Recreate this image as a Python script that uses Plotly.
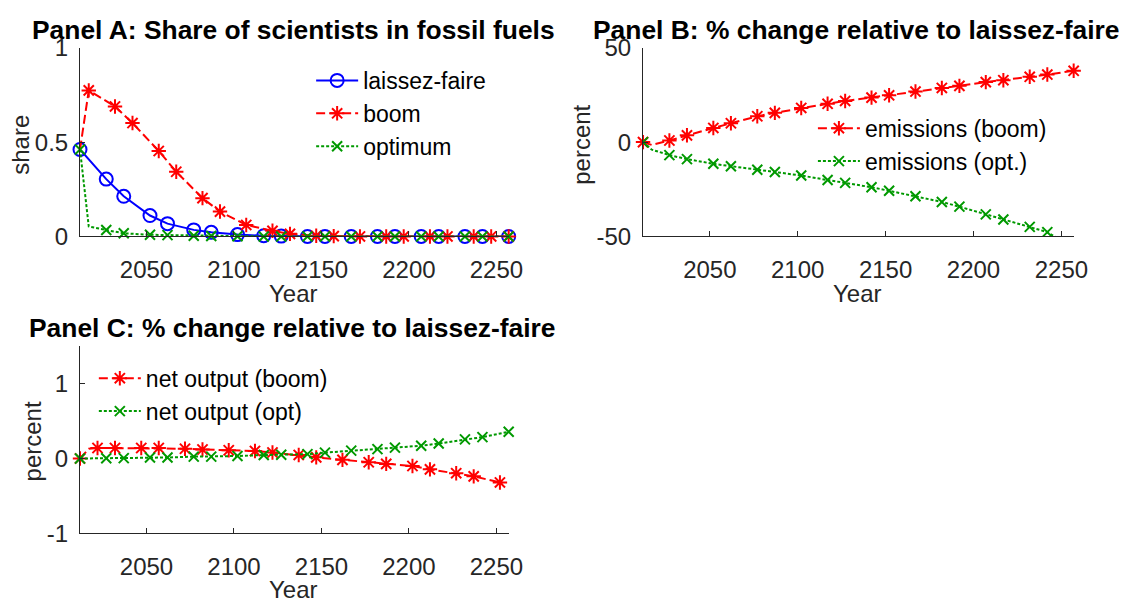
import plotly.graph_objects as go

# ---------------- data ----------------
# Panel A: share of scientists in fossil fuels
years_a_laissez = [2012, 2027, 2037, 2052, 2062, 2077, 2087, 2102, 2117, 2127,
                   2142, 2152, 2167, 2182, 2192, 2207, 2217, 2232, 2242, 2257]
share_laissez = [0.461, 0.304, 0.213, 0.111, 0.068, 0.035, 0.022, 0.010, 0.004, 0.002,
                 0, 0, 0, 0, 0, 0, 0, 0, 0, 0]
marked_a_laissez = [1] * 20

years_a_boom = [2012, 2017, 2032, 2042, 2057, 2067, 2082, 2092, 2107, 2122, 2132,
                2147, 2157, 2172, 2187, 2197, 2212, 2222, 2237, 2247, 2257]
share_boom = [0.461, 0.774, 0.689, 0.601, 0.453, 0.343, 0.203, 0.132, 0.061, 0.030, 0.014,
              0.004, 0.002, 0, 0, 0, 0, 0, 0, 0, 0]
marked_a_boom = [0] + [1] * 20

years_a_opt = [2012, 2017, 2027, 2037, 2052, 2062, 2077, 2087, 2102, 2117, 2127,
               2142, 2152, 2167, 2182, 2192, 2207, 2217, 2232, 2242, 2257]
share_opt = [0.461, 0.053, 0.034, 0.017, 0.009, 0.007, 0.004, 0.003, 0.001, 0, 0,
             0, 0, 0, 0, 0, 0, 0, 0, 0, 0]
marked_a_opt = [1, 0] + [1] * 19

# Panel B: emissions, % change relative to laissez-faire
years_b_boom = [2012, 2017, 2027, 2037, 2052, 2062, 2077, 2087, 2102, 2117, 2127,
                2142, 2152, 2167, 2182, 2192, 2207, 2217, 2232, 2242, 2257]
emis_boom = [0, -1.5, 0.85, 3.6, 7.5, 10.0, 13.7, 15.5, 18.1, 20.3, 21.8,
             23.6, 24.8, 26.8, 28.7, 29.8, 31.8, 32.8, 34.6, 35.8, 37.8]
marked_b_boom = [1, 0] + [1] * 19

years_b_opt = [2012, 2017, 2027, 2037, 2052, 2062, 2077, 2087, 2102, 2117, 2127,
               2142, 2152, 2167, 2182, 2192, 2207, 2217, 2232, 2242, 2247, 2257]
emis_opt = [0, -4.0, -6.9, -9.0, -11.5, -12.8, -14.6, -15.8, -17.7, -20.1, -21.6,
            -23.9, -25.8, -28.7, -31.7, -34.2, -38.3, -41.0, -44.9, -47.7, -50.5, -53.5]
marked_b_opt = [1, 0] + [1] * 18 + [0, 1]

# Panel C: net output, % change relative to laissez-faire
years_c_boom = [2012, 2017, 2022, 2032, 2047, 2057, 2072, 2082, 2097, 2112, 2122,
                2137, 2147, 2162, 2177, 2187, 2202, 2212, 2227, 2237, 2252]
output_boom = [0, 0.13, 0.14, 0.14, 0.14, 0.14, 0.13, 0.12, 0.11, 0.10, 0.08,
               0.047, 0.015, -0.018, -0.05, -0.072, -0.10, -0.145, -0.196, -0.238, -0.32]
marked_c_boom = [1, 0] + [1] * 19

years_c_opt = [2012, 2027, 2037, 2052, 2062, 2077, 2087, 2102, 2117, 2127,
               2142, 2152, 2167, 2182, 2192, 2207, 2217, 2232, 2242, 2257]
output_opt = [0, 0.003, 0.005, 0.013, 0.013, 0.025, 0.025, 0.033, 0.046, 0.05,
              0.058, 0.078, 0.105, 0.125, 0.145, 0.17, 0.20, 0.255, 0.285, 0.357]
marked_c_opt = [1] * 20

x_ticks = [2050, 2100, 2150, 2200, 2250]
x_range = [2012, 2257]
ya_ticks, ya_text = [0, 0.5, 1], ["0", "0.5", "1"]
yb_ticks, yb_text = [-50, 0, 50], ["-50", "0", "50"]
yc_ticks, yc_text = [-1, 0, 1], ["-1", "0", "1"]

# ---------------- styling ----------------
W, H = 1142, 615
FONT = "Liberation Sans, Arial, Helvetica, sans-serif"
AXC = "#262626"
BLUE, RED, GREEN = "#0000FF", "#FF0000", "#009900"
RED_DASH = "9px,4px"
GREEN_DOT = "3px,2px"
LEG_FONT = 23


def fx(px):
    return px / W


def fy(py):
    return 1 - py / H


fig = go.Figure()


def add_series(xs, ys, marked, name, color, dash, symbol, msize, xa, ya, legend, clip=False):
    fig.add_trace(go.Scatter(x=xs, y=ys, mode="lines", line=dict(color=color, width=2, dash=dash),
                             xaxis=xa, yaxis=ya, showlegend=False, hoverinfo="skip"))
    mx = [x for x, m in zip(xs, marked) if m]
    my = [y for y, m in zip(ys, marked) if m]
    mk = dict(symbol=symbol, size=msize, color=color, line=dict(color=color, width=2))
    fig.add_trace(go.Scatter(x=mx, y=my, mode="markers", marker=mk, xaxis=xa, yaxis=ya,
                             showlegend=False, cliponaxis=clip, hoverinfo="skip"))
    fig.add_trace(go.Scatter(x=[None], y=[None], mode="lines+markers", name=name,
                             line=dict(color=color, width=2, dash=dash), marker=mk,
                             xaxis=xa, yaxis=ya, legend=legend))


add_series(years_a_laissez, share_laissez, marked_a_laissez, "laissez-faire", BLUE, "solid",
           "circle-open", 13, "x", "y", "legend")
add_series(years_a_boom, share_boom, marked_a_boom, "boom", RED, RED_DASH,
           "asterisk-open", 12, "x", "y", "legend")
add_series(years_a_opt, share_opt, marked_a_opt, "optimum", GREEN, GREEN_DOT,
           "x-thin-open", 10, "x", "y", "legend")

add_series(years_b_boom, emis_boom, marked_b_boom, "emissions (boom)", RED, RED_DASH,
           "asterisk-open", 12, "x2", "y2", "legend2")
add_series(years_b_opt, emis_opt, marked_b_opt, "emissions (opt.)", GREEN, GREEN_DOT,
           "x-thin-open", 10, "x2", "y2", "legend2", clip=True)

add_series(years_c_boom, output_boom, marked_c_boom, "net output (boom)", RED, RED_DASH,
           "asterisk-open", 12, "x3", "y3", "legend3")
add_series(years_c_opt, output_opt, marked_c_opt, "net output (opt)", GREEN, GREEN_DOT,
           "x-thin-open", 10, "x3", "y3", "legend3")

tickfont = dict(family=FONT, size=24, color=AXC)
common = dict(showline=True, linecolor=AXC, linewidth=1, ticks="inside", ticklen=5,
              tickcolor=AXC, tickwidth=1, showgrid=False, zeroline=False, tickfont=tickfont,
              mirror=False, fixedrange=True)
xcommon = dict(common, range=x_range, tickvals=x_ticks, ticklabelstandoff=12)
ycommon = dict(common, ticklabelstandoff=6)

dom_a_x = [fx(81), fx(515)]
dom_b_x = [fx(651), fx(1087)]
dom_top_y = [fy(232.7), fy(35.3)]
dom_c_y = [fy(543.3), fy(347.3)]

legfont = dict(family=FONT, size=LEG_FONT, color="black")
fig.update_layout(
    width=W, height=H, margin=dict(l=0, r=0, t=0, b=0),
    paper_bgcolor="white", plot_bgcolor="white",
    font=dict(family=FONT, size=24, color=AXC),
    xaxis=dict(xcommon, domain=dom_a_x, anchor="y"),
    yaxis=dict(ycommon, domain=dom_top_y, anchor="x", range=[0, 1], tickvals=ya_ticks,
               ticktext=ya_text),
    xaxis2=dict(xcommon, domain=dom_b_x, anchor="y2"),
    yaxis2=dict(ycommon, domain=dom_top_y, anchor="x2", range=[-50, 50], tickvals=yb_ticks,
                ticktext=yb_text),
    xaxis3=dict(xcommon, domain=dom_a_x, anchor="y3"),
    yaxis3=dict(ycommon, domain=dom_c_y, anchor="x3", range=[-1, 1.5], tickvals=yc_ticks,
                ticktext=yc_text),
    legend=dict(x=fx(315), y=fy(47), xanchor="left", yanchor="top", bgcolor="rgba(0,0,0,0)",
                font=legfont, itemwidth=42),
    legend2=dict(x=fx(823), y=fy(97), xanchor="left", yanchor="top", bgcolor="rgba(0,0,0,0)",
                 font=legfont, itemwidth=42),
    legend3=dict(x=fx(95), y=fy(358.5), xanchor="left", yanchor="top", bgcolor="rgba(0,0,0,0)",
                 font=legfont, itemwidth=42),
    showlegend=True,
)

annos = []
# titles
for text, cx, cy in [("Panel A: Share of scientists in fossil fuels", 297, 17),
                     ("Panel B: % change relative to laissez-faire", 867, 17),
                     ("Panel C: % change relative to laissez-faire", 296, 328)]:
    annos.append(dict(text="<b>" + text + "</b>", x=fx(cx), y=fy(cy), xref="paper", yref="paper",
                      xanchor="center", yanchor="middle", showarrow=False,
                      font=dict(family=FONT, size=26.4, color="black")))
# axis labels
for text, cx, cy, rot in [("Year", 297, 292.5, 0), ("Year", 868, 292.5, 0), ("Year", 297, 602, 0),
                          ("share", 21, 137, -90), ("percent", 589, 137, -90),
                          ("percent", 33, 447.5, -90)]:
    annos.append(dict(text=text, x=fx(cx), y=fy(cy), xref="paper", yref="paper",
                      xanchor="center", yanchor="middle", showarrow=False, textangle=rot,
                      font=dict(family=FONT, size=24, color=AXC)))
fig.update_layout(annotations=annos)

# remove the default 8px page margin so the figure sits at the window's top-left corner
fig.write_html("out.html", config={"displayModeBar": False},
               post_script="document.body.style.margin='0px';")
